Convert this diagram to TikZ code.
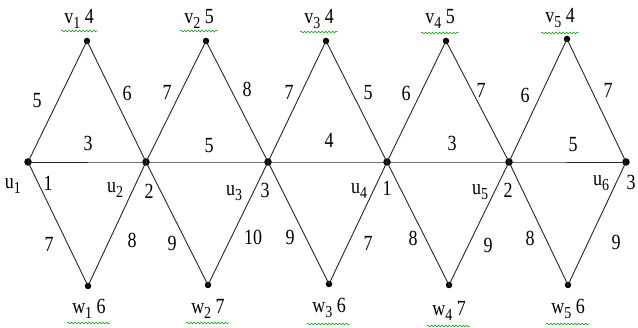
\documentclass[tikz,border=0pt]{standalone}
\usepackage{fontspec}
\setmainfont{Liberation Serif}
\usetikzlibrary{decorations.pathmorphing}
\newcommand\lsub[1]{\raisebox{-0.45ex}{\fontsize{14}{14}\selectfont #1}}
\newcommand\lab[1]{\scalebox{1}[1.2]{#1}}
\begin{document}
\begin{tikzpicture}[x=1pt,y=-1pt,
  bigdot/.style={circle,fill=black,inner sep=0pt,minimum size=7.5pt},
  smalldot/.style={circle,fill=black,inner sep=0pt,minimum size=6.5pt},
  edge/.style={draw=black!85,line width=0.9pt},
  lbl/.style={inner sep=0pt,font=\fontsize{18}{18}\selectfont},
  wavy/.style={draw=green!60!black,line width=0.5pt,decorate,decoration={snake,amplitude=0.9pt,segment length=3.5pt}}]
\useasboundingbox (0,0) rectangle (638,328);
% vertices
\node[bigdot] (u1) at (28,162) {};
\node[bigdot] (u2) at (146,162) {};
\node[bigdot] (u3) at (268,162) {};
\node[bigdot] (u4) at (387,162) {};
\node[bigdot] (u5) at (509,162) {};
\node[bigdot] (u6) at (626,162) {};
\node[smalldot] (v1) at (87,41) {};
\node[smalldot] (v2) at (206,41) {};
\node[smalldot] (v3) at (326,41) {};
\node[smalldot] (v4) at (446,41) {};
\node[smalldot] (v5) at (567,39) {};
\node[smalldot] (w1) at (88,286) {};
\node[smalldot] (w2) at (208,285) {};
\node[smalldot] (w3) at (329,284) {};
\node[smalldot] (w4) at (449,285) {};
\node[smalldot] (w5) at (568,285) {};
% edges
\draw[edge] (u1.center) -- (u2.center) -- (u3.center) -- (u4.center) -- (u5.center) -- (u6.center);
\draw[edge] (u1.center) -- (v1.center) -- (u2.center) -- (v2.center) -- (u3.center) -- (v3.center) -- (u4.center) -- (v4.center) -- (u5.center) -- (v5.center) -- (u6.center);
\draw[edge] (u1.center) -- (w1.center) -- (u2.center) -- (w2.center) -- (u3.center) -- (w3.center) -- (u4.center) -- (w4.center) -- (u5.center) -- (w5.center) -- (u6.center);
% vertex labels top
\node[lbl] (tv1) at (79,19) {\lab{v\lsub{1} 4}};
\node[lbl] (tv2) at (199,19) {\lab{v\lsub{2} 5}};
\node[lbl] (tv3) at (319,19) {\lab{v\lsub{3} 4}};
\node[lbl] (tv4) at (440,19) {\lab{v\lsub{4} 5}};
\node[lbl] (tv5) at (560,18) {\lab{v\lsub{5} 4}};
% vertex labels bottom
\node[lbl] (tw1) at (89,309) {\lab{w\lsub{1} 6}};
\node[lbl] (tw2) at (208,309) {\lab{w\lsub{2} 7}};
\node[lbl] (tw3) at (329,308) {\lab{w\lsub{3} 6}};
\node[lbl] (tw4) at (449,311) {\lab{w\lsub{4} 7}};
\node[lbl] (tw5) at (568,309) {\lab{w\lsub{5} 6}};
% wavy underlines
\draw[wavy] (61,31) -- (98,31);
\draw[wavy] (180,31) -- (218,31);
\draw[wavy] (300,32) -- (338,32);
\draw[wavy] (421,33) -- (459,33);
\draw[wavy] (541,33) -- (579,33);
\draw[wavy] (67,323) -- (110,323);
\draw[wavy] (186,323) -- (229,323);
\draw[wavy] (307,324) -- (350,324);
\draw[wavy] (427,326) -- (470,326);
\draw[wavy] (546,324) -- (589,324);
% u labels
\node[lbl] (lu1) at (13,186) {\lab{u\lsub{1}}};
\node[lbl] (lu2) at (115,190) {\lab{u\lsub{2}}};
\node[lbl] (lu3) at (234,193) {\lab{u\lsub{3}}};
\node[lbl] (lu4) at (359,191) {\lab{u\lsub{4}}};
\node[lbl] (lu5) at (480,192) {\lab{u\lsub{5}}};
\node[lbl] (lu6) at (601,183) {\lab{u\lsub{6}}};
\node[lbl] (nu1) at (48,183) {\lab{1}};
\node[lbl] (nu2) at (149,191) {\lab{2}};
\node[lbl] (nu3) at (265,190) {\lab{3}};
\node[lbl] (nu4) at (387,188) {\lab{1}};
\node[lbl] (nu5) at (508,190) {\lab{2}};
\node[lbl] (nu6) at (631,182) {\lab{3}};
% upper edge weights
\node[lbl] at (37,101) {\lab{5}};
\node[lbl] at (127,93) {\lab{6}};
\node[lbl] at (88,143) {\lab{3}};
\node[lbl] at (167,92) {\lab{7}};
\node[lbl] at (247,89) {\lab{8}};
\node[lbl] at (209,146) {\lab{5}};
\node[lbl] at (289,92) {\lab{7}};
\node[lbl] at (368,93) {\lab{5}};
\node[lbl] at (329,140) {\lab{4}};
\node[lbl] at (406,93) {\lab{6}};
\node[lbl] at (481,90) {\lab{7}};
\node[lbl] at (452,143) {\lab{3}};
\node[lbl] at (525,95) {\lab{6}};
\node[lbl] at (608,90) {\lab{7}};
\node[lbl] at (573,145) {\lab{5}};
% lower edge weights
\node[lbl] at (49,244) {\lab{7}};
\node[lbl] at (132,240) {\lab{8}};
\node[lbl] at (172,243) {\lab{9}};
\node[lbl] at (253,237) {\lab{10}};
\node[lbl] at (290,237) {\lab{9}};
\node[lbl] at (368,243) {\lab{7}};
\node[lbl] at (413,238) {\lab{8}};
\node[lbl] at (488,245) {\lab{9}};
\node[lbl] at (530,238) {\lab{8}};
\node[lbl] at (616,242) {\lab{9}};
\end{tikzpicture}
\end{document}
